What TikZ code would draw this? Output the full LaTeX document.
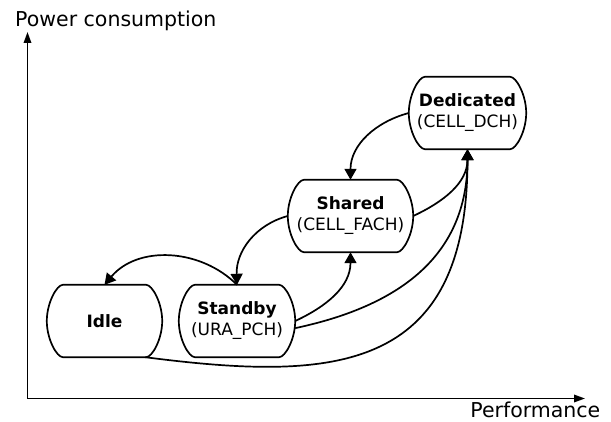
\documentclass[tikz,border=0pt]{standalone}
\usepackage{fontspec}
\setmainfont{DejaVu Sans}
\usetikzlibrary{arrows.meta,calc}
\newcommand\capsuleoutline[1]{%
  \draw[outline] ($(#1.north west)+(16,0)$) -- ($(#1.north east)+(-16,0)$)
    .. controls ($(#1.north east)+(-10,0)$) and ($(#1.north east)+(0,-18)$) .. (#1.east)
    .. controls ($(#1.south east)+(0,18)$) and ($(#1.south east)+(-10,0)$) .. ($(#1.south east)+(-16,0)$)
    -- ($(#1.south west)+(16,0)$)
    .. controls ($(#1.south west)+(10,0)$) and ($(#1.south west)+(0,18)$) .. (#1.west)
    .. controls ($(#1.north west)+(0,-18)$) and ($(#1.north west)+(10,0)$) .. ($(#1.north west)+(16,0)$) -- cycle;}
\begin{document}
\begin{tikzpicture}[x=1pt,y=1pt,
  state/.style={draw=none, minimum height=72pt, inner sep=0pt, align=center, font=\fontsize{17}{21}\selectfont},
  outline/.style={line width=1.7pt, line join=round},
  conn/.style={line width=1.7pt, -{Triangle[length=11pt,width=12pt]}},
  axis/.style={line width=1.7pt, {Triangle[length=11pt,width=7.5pt]}-{Triangle[length=11pt,width=7.5pt]}},
  axlabel/.style={font=\fontsize{20.5}{24}\selectfont, inner sep=0pt}]
\useasboundingbox (0,0) rectangle (611,421);
% axes
\coordinate (o) at (27.5,22.5);
\coordinate (ytop) at (27.5,389);
\coordinate (xend) at (585,22.5);
\draw[axis] (ytop) -- (o) -- (xend);
\node[axlabel, anchor=base west] (ylabel) at (15,394) {Power consumption};
\node[axlabel, anchor=base east] (xlabel) at (600.5,4) {Performance};
% states
\node[state, minimum width=115pt] (idle) at (104.5,100) {\textbf{Idle}};
\node[state, minimum width=116pt] (standby) at (237,100) {\textbf{Standby}\\(URA\_PCH)};
\node[state, minimum width=125pt] (shared) at (350.5,205) {\textbf{Shared}\\(CELL\_FACH)};
\node[state, minimum width=117pt] (dedicated) at (467.5,308) {\textbf{Dedicated}\\(CELL\_DCH)};
\capsuleoutline{idle}
\capsuleoutline{standby}
\capsuleoutline{shared}
\capsuleoutline{dedicated}
% transitions
\draw[conn] (dedicated.west) to[out=195,in=90] (shared.north);
\draw[conn] (shared.west) to[out=195,in=92] (standby.north);
\draw[conn] (standby.north) to[out=135,in=50] (idle.north);
\draw[conn] (standby.east) to[out=25,in=-90] (shared.south);
\draw[conn] (shared.east) to[out=25,in=-90] (dedicated.south);
\draw[conn] (standby.-7) to[out=12,in=-90,looseness=1.1] (dedicated.south);
\coordinate (idleexit) at ($(idle.south east)+(-17,0)$);
\draw[conn] (idleexit) .. controls (330,40) and (467.5,45) .. (dedicated.south);
\end{tikzpicture}
\end{document}
